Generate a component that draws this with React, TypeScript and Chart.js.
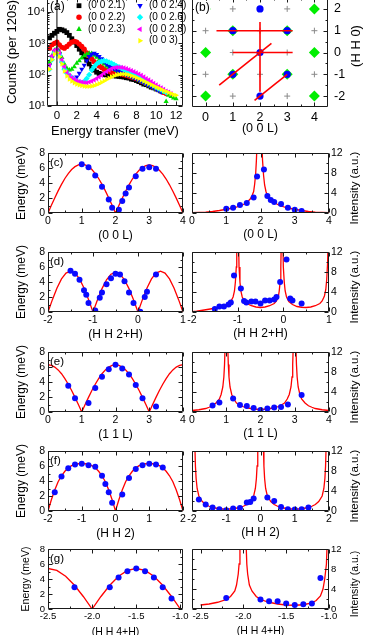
import React, { useEffect, useRef } from 'react';
import { Chart, registerables } from 'chart.js';
Chart.register(...registerables);

const W = 374;
const H = 635;
const OFF = 20;
const FONT = "'Liberation Sans', Arial, Helvetica, sans-serif";

// ---------------- Panel (a) data ----------------
const aEnergy = [-0.75,-0.5,-0.25,0,0.25,0.5,0.75,1,1.25,1.5,1.75,2,2.25,2.5,2.75,3,3.25,3.5,3.75,4,4.25,4.5,4.75,5,5.25,5.5,5.75,6,6.25,6.5,6.75,7,7.25,7.5,7.75,8,8.25,8.5,8.75,9,9.25,9.5,9.75,10,10.25,10.5,10.75,11,11.25,11.5,11.75,12];
const a21 = [1500,1800,2100,2400,2800,2700,2500,2200,1800,1400,1100,850,650,500,380,290,220,170,140,120,110,104,100,98,95,96,92,90,88,86,84,80,78,72,70,65,60,55,50,48,44,40,38,35,33,30,null,null,null,null,null,null];
const a22 = [700,900,1000,1100,900,750,700,800,950,1100,1150,1100,950,800,650,500,400,320,260,220,190,170,150,140,130,118,120,115,110,105,100,95,90,85,80,75,70,62,58,52,48,44,40,36,33,30,27,25,null,null,null,null];
const a23 = [250,400,600,700,550,350,220,160,140,150,180,230,280,340,400,450,480,470,420,360,300,250,220,190,170,155,145,135,125,115,105,100,95,88,80,75,68,62,56,50,46,42,38,35,32,30,27,14,22,20,18,17];
const a24 = [200,350,550,600,450,250,150,110,90,80,75,85,110,150,200,280,380,450,480,440,380,320,260,220,190,170,155,140,130,120,110,100,95,88,80,75,68,62,56,50,46,42,38,34,31,28,null,null,null,null,null,null];
const a26 = [150,300,500,550,420,250,150,110,90,80,70,62,58,55,60,75,100,140,180,220,250,270,280,270,250,230,210,190,175,160,145,130,120,110,100,90,82,75,68,62,56,50,45,40,36,33,30,27,null,null,null,null];
const a28 = [200,400,600,650,500,300,180,120,95,80,72,65,60,58,56,55,58,62,68,75,85,95,110,125,140,155,165,170,172,170,165,155,145,135,125,115,105,95,85,75,68,60,53,47,42,38,34,30,28,25,null,null];
const a30 = [150,300,450,500,380,220,130,90,72,62,55,50,47,45,43,42,42,43,45,48,52,57,63,70,78,85,92,98,102,105,105,102,98,92,86,80,74,68,62,57,52,48,44,40,37,34,31,29,27,25,23,22];
const aXTicks = [0,2,4,6,8,10,12];
const aYTicks = [10,100,1000,10000];
const aYLabels: Record<number,string> = {10:'10\u00B9',100:'10\u00B2',1000:'10\u00B3',10000:'10\u2074'};
const aLegendLabels = ['(0 0 2.1)','(0 0 2.2)','(0 0 2.3)','(0 0 2.4)','(0 0 2.6)','(0 0 2.8)','(0 0 3)'];

// ---------------- Panel (b) data ----------------
const bGridL = [0,1,2,3,4,0,1,2,3,4,0,1,2,3,4,0,1,2,3,4,0,1,2,3,4];
const bGridH = [2,2,2,2,2,1,1,1,1,1,0,0,0,0,0,-1,-1,-1,-1,-1,-2,-2,-2,-2,-2];
const bGreenL = [0,0,0,1,1,3,3,4,4,4];
const bGreenH = [2,0,-2,1,-1,1,-1,2,0,-2];
const bBlueL = [2,1,3,2,1,3,2];
const bBlueH = [2,1,1,0,-1,-1,-2];
const bCut11L = [0.4,3.2]; const bCut11H = [1,1];
const bCut00L = [1,3.2]; const bCut00H = [0,0];
const bCutHH2L = [2,2]; const bCutHH2H = [-1.8,1.4];
const bCutHH2HL = [0.5,2.42]; const bCutHH2HH = [-1.5,0.42];
const bCutHH4HL = [1.8,3]; const bCutHH4HH = [-2.2,-1];
const bXTicks = [0,1,2,3,4];
const bYTicks = [-2,-1,0,1,2];

// ---------------- Panels (c)-(g) data ----------------
const cL = [1.0,1.2,1.4,1.6,1.8,1.9,2.1,2.2,2.3,2.4,2.6,2.8,3.0,3.2];
const cE = [6.5,6.1,5.0,3.5,1.8,0.7,0.45,1.6,2.6,3.4,4.9,5.9,6.1,5.9];
const cI = [0.85,1.05,1.6,2.0,3.1,7.3,8.7,3.4,2.6,2.2,1.8,1.05,0.65,0.4];
const cFitL = [0,0.1,0.2,0.3,0.4,0.5,0.6,0.7,0.8,0.9,1.0,1.1,1.2,1.3,1.4,1.5,1.6,1.7,1.8,1.9,2.0,2.1,2.2,2.3,2.4,2.5,2.6,2.7,2.8,2.9,3.0,3.1,3.2,3.3,3.4,3.5,3.6,3.7,3.8,3.9,4.0];
const cFitE = [0,1.02,2.01,2.95,3.82,4.60,5.26,5.79,6.18,6.42,6.5,6.42,6.18,5.79,5.26,4.60,3.82,2.95,2.01,1.02,0,1.00,1.98,2.91,3.76,4.53,5.18,5.70,6.09,6.32,6.4,6.32,6.09,5.70,5.18,4.53,3.76,2.91,1.98,1.00,0];
const cIFitL = [0,0.2,0.4,0.6,0.8,1.0,1.2,1.4,1.5,1.6,1.7,1.75,1.8,1.83,1.86,1.88,1.9,1.97,2.04,2.06,2.09,2.12,2.16,2.2,2.3,2.4,2.5,2.6,2.8,3.0,3.2,3.4,3.6,3.8,4.0];
const cIFit = [0.05,0.1,0.18,0.3,0.5,0.75,1.0,1.4,1.7,2.1,2.8,3.4,4.3,5.8,8.0,10.5,14,null,14,10.5,7.5,5.6,4.3,3.5,2.6,2.1,1.7,1.4,1.0,0.75,0.5,0.3,0.18,0.1,0.05];

const dH = [-1.5,-1.4,-1.3,-1.2,-1.15,-1.1,-0.95,-0.85,-0.8,-0.7,-0.6,-0.5,-0.4,-0.3,-0.2,-0.1,0.05,0.15,0.2,0.4];
const dE = [5.5,5.1,4.3,2.9,2.3,1.2,0.2,1.9,2.6,3.7,4.5,5.1,5.0,4.1,2.6,1.2,0.05,2.0,2.7,5.0];
const dIH = [-1.5,-1.4,-1.3,-1.2,-1.15,-1.08,-0.93,-0.86,-0.81,-0.7,-0.61,-0.5,-0.4,-0.3,-0.2,-0.15,-0.07,0.07,0.15,0.2,0.4];
const dI = [0.6,1.1,1.1,1.5,1.9,7.3,4.7,2.2,1.9,2.1,2.1,1.7,2.3,2.3,2.5,3.0,6.0,10.5,2.7,2.3,1.7];
const dFitH = [-2.0,-1.9,-1.8,-1.7,-1.6,-1.5,-1.4,-1.3,-1.2,-1.1,-1.0,-0.9,-0.8,-0.7,-0.6,-0.5,-0.4,-0.3,-0.2,-0.1,0,0.1,0.2,0.3,0.4,0.5,0.6,0.7,0.8,0.9,1.0];
const dFitE = [0,1.68,3.20,4.41,5.18,5.45,5.18,4.41,3.20,1.68,0,1.64,3.12,4.29,5.04,5.3,5.04,4.29,3.12,1.64,0,1.68,3.20,4.41,5.18,5.45,5.18,4.41,3.20,1.68,0];
const dIFitH = [-2.0,-1.9,-1.8,-1.7,-1.6,-1.5,-1.4,-1.3,-1.2,-1.15,-1.1,-1.07,-1.05,-1.03,-1.02,-1.0,-0.98,-0.97,-0.95,-0.93,-0.9,-0.85,-0.8,-0.7,-0.6,-0.5,-0.4,-0.3,-0.2,-0.15,-0.11,-0.09,-0.07,-0.055,-0.045,-0.03,-0.01,0.0,0.02,0.04,0.07,0.12,0.2,0.3,0.4,0.5,0.6,0.7,0.8,0.85,0.9,0.93,0.95,0.97,0.98];
const dIFit = [0.05,0.15,0.3,0.45,0.6,0.75,0.95,1.25,1.7,2.1,3.0,4.2,6,9,14,null,14,9,6,4.2,3.0,2.1,1.7,1.25,1.0,0.9,1.0,1.25,1.7,2.2,3.0,4.2,6,9,14,null,14,9,6,4.2,3.0,2.1,1.5,1.1,0.95,0.9,1.0,1.25,1.7,2.2,3.2,4.5,6.5,10,14];

const eL = [0.6,0.8,1.2,1.4,1.6,1.8,2.0,2.2,2.4,2.6,2.8,3.2];
const eE = [3.5,1.85,1.2,3.2,4.7,5.7,6.3,5.8,5.0,3.6,1.85,0.75];
const eI = [1.3,1.9,2.7,1.4,1.2,0.8,0.4,0.7,0.9,1.0,1.5,3.4];
const eFitL = cFitL;
const eFitE = [6.3,6.22,5.99,5.61,5.10,4.45,3.70,2.86,1.95,0.99,0,0.99,1.95,2.86,3.70,4.45,5.10,5.61,5.99,6.22,6.3,6.22,5.99,5.61,5.10,4.45,3.70,2.86,1.95,0.99,0,0.99,1.95,2.86,3.70,4.45,5.10,5.61,5.99,6.22,6.3];
const eIFitL = [0,0.2,0.4,0.5,0.6,0.7,0.8,0.85,0.9,0.93,0.95,0.97,1.0,1.04,1.06,1.08,1.11,1.16,1.22,1.3,1.4,1.5,1.6,1.8,2.0,2.2,2.4,2.5,2.6,2.7,2.78,2.84,2.89,2.92,2.94,2.96,3.0,3.03,3.05,3.07,3.1,3.15,3.2,3.3,3.4,3.5,3.6,3.8,4.0];
const eIFit = [0.3,0.45,0.7,0.95,1.25,1.8,2.6,3.5,5.0,7,9.5,14,null,14,9.5,7,5.0,3.5,2.6,1.8,1.35,1.05,0.85,0.6,0.5,0.6,0.85,1.05,1.35,1.8,2.6,3.5,5.0,7,9.5,14,null,14,9.5,7,5.0,3.5,2.6,1.8,1.25,0.95,0.7,0.45,0.3];

const fH = [-1.8,-1.6,-1.4,-1.2,-1.0,-0.8,-0.6,-0.4,-0.3,-0.2,-0.1,0.2,0.4,0.6,0.8,1.0,1.2,1.4];
const fE = [2.5,4.6,5.7,6.2,6.3,6.1,5.9,4.7,3.6,2.5,1.1,2.2,4.4,5.6,6.1,6.3,6.2,5.8];
const fIH = [-1.8,-1.6,-1.4,-1.2,-1.0,-0.8,-0.6,-0.4,-0.3,-0.2,0.2,0.4,0.6,0.8,1.0,1.2,1.4];
const fI = [2.3,1.3,0.7,0.35,0.15,0.5,0.6,1.7,1.8,2.5,2.7,2.0,0.8,0.35,0.3,0.35,0.7];
const fFitH = [-2.0,-1.9,-1.8,-1.7,-1.6,-1.5,-1.4,-1.3,-1.2,-1.1,-1.0,-0.9,-0.8,-0.7,-0.6,-0.5,-0.4,-0.3,-0.2,-0.1,0,0.1,0.2,0.3,0.4,0.5,0.6,0.7,0.8,0.9,1.0,1.1,1.2,1.3,1.4,1.5,1.6,1.7,1.8,1.9,2.0];
const fFitE = [0,1.5,2.8,3.9,4.7,5.3,5.75,6.05,6.2,6.3,6.3,6.3,6.2,6.05,5.75,5.3,4.7,3.9,2.8,1.5,0,1.5,2.8,3.9,4.7,5.3,5.75,6.05,6.2,6.3,6.3,6.3,6.2,6.05,5.75,5.3,4.7,3.9,2.8,1.5,0];
const fIFitH = [-1.92,-1.9,-1.88,-1.85,-1.8,-1.7,-1.6,-1.5,-1.4,-1.2,-1.0,-0.8,-0.6,-0.5,-0.4,-0.3,-0.2,-0.15,-0.12,-0.1,-0.08,0,0.08,0.1,0.12,0.15,0.2,0.3,0.4,0.5,0.6,0.8,1.0,1.2,1.4,1.5,1.6,1.7,1.8,1.85,1.88,1.9,1.92];
const fIFit = [14,9,6.5,4.5,3.0,1.9,1.3,0.95,0.7,0.45,0.35,0.45,0.7,0.95,1.3,1.9,3.0,4.5,6.5,9,14,null,14,9,6.5,4.5,3.0,1.9,1.3,0.95,0.7,0.45,0.35,0.45,0.7,0.95,1.3,1.9,3.0,4.5,6.5,9,14];

const gH = [-2.2,-1.8,-1.7,-1.6,-1.5,-1.4,-1.3,-1.2,-1.1];
const gE = [2.9,2.9,4.2,5.05,5.4,5.05,4.2,2.9,1.4];
const gI = [2.2,1.9,1.55,1.55,1.1,0.8,0.95,1.1,6.2];
const gFitH = [-2.5,-2.4,-2.3,-2.2,-2.1,-2.0,-1.9,-1.8,-1.7,-1.6,-1.5,-1.4,-1.3,-1.2,-1.1,-1.0];
const gFitE = [5.4,5.14,4.37,3.17,1.67,0,1.67,3.17,4.37,5.14,5.4,5.14,4.37,3.17,1.67,0];
const gIFitH = [-2.5,-2.4,-2.3,-2.2,-2.15,-2.1,-2.08,-2.06,-2.05,-2.04,-2.0,-1.97,-1.96,-1.95,-1.93,-1.9,-1.85,-1.8,-1.7,-1.6,-1.5,-1.4,-1.3,-1.2,-1.15,-1.1,-1.07,-1.05,-1.03,-1.02];
const gIFit = [0.8,1.0,1.35,1.9,2.5,3.6,4.8,7,9,14,null,14,9,7,4.8,3.6,2.5,1.9,1.35,1.0,0.8,0.75,0.85,1.2,1.7,2.6,4,6,9,14];

const eTicksY = [0,2,4,6,8];
const iTicksY = [0,4,8,12];
const ticks04 = [0,1,2,3,4];
const ticksD = [-2,-1,0,1];
const ticksF = [-2,-1,0,1,2];
const ticksG = [-2.5,-2.0,-1.5,-1.0];

// ---------------- helpers ----------------
const pts = (xs: number[], ys: (number | null)[]) => xs.map((x, i) => ({ x, y: ys[i] }));
const RED = '#ff0000';
const BLUE = '#0a0aff';

type TextItem = { text: string; x: number; y: number; size: number; rot?: number; align?: CanvasTextAlign; bg?: boolean };
type LegendItem = { text: string; color: string; shape: string; x: number; y: number };

interface Spec {
  rect: { l: number; t: number; r: number; b: number };
  xMin: number; xMax: number; xTicks: number[]; xFmt?: (v: number) => string;
  yMin: number; yMax: number; yTicks: number[]; yFmt?: (v: number) => string; yLog?: boolean;
  yRight?: boolean;
  xTitle: string; yTitle?: string;
  tickFont: number; titleFont: number;
  xLabelPad: number; xTitleY: number;
  yLabelPad: number; yTitleX?: number;
  minorX: number; minorY: number;
  datasets: any[];
  texts: TextItem[];
  legend?: LegendItem[];
}

function drawShape(ctx: CanvasRenderingContext2D, shape: string, x: number, y: number, r: number) {
  ctx.beginPath();
  const tri = (rot: number) => {
    for (let k = 0; k < 3; k++) {
      const a = rot + (k * 2 * Math.PI) / 3;
      const px = x + r * Math.sin(a);
      const py = y - r * Math.cos(a);
      if (k === 0) ctx.moveTo(px, py); else ctx.lineTo(px, py);
    }
    ctx.closePath();
  };
  if (shape === 'rect') ctx.rect(x - r * 0.75, y - r * 0.75, r * 1.5, r * 1.5);
  else if (shape === 'circle') ctx.arc(x, y, r * 0.85, 0, Math.PI * 2);
  else if (shape === 'diamond') { ctx.moveTo(x, y - r); ctx.lineTo(x + r, y); ctx.lineTo(x, y + r); ctx.lineTo(x - r, y); ctx.closePath(); }
  else if (shape === 'up') tri(0);
  else if (shape === 'down') tri(Math.PI);
  else if (shape === 'left') tri(-Math.PI / 2);
  else if (shape === 'right') tri(Math.PI / 2);
  ctx.fill();
}

const framePlugin = {
  id: 'frame',
  afterDatasetsDraw(chart: any) {
    const o = chart.options.plugins.frame;
    if (!o) return;
    const { ctx, chartArea: a, scales } = chart;
    const xs = scales.x, ys = scales.y;
    const L = Math.round(a.left) + 0.5, R = Math.round(a.right) - 0.5;
    const T = Math.round(a.top) + 0.5, B = Math.round(a.bottom) - 0.5;
    ctx.save();
    ctx.strokeStyle = '#1a1a1a';
    ctx.lineWidth = 1;
    ctx.beginPath();
    ctx.rect(L, T, R - L, B - T);
    const minorVals = (tv: number[], n: number, min: number, max: number) => {
      const out: number[] = [];
      if (n <= 1 || tv.length < 2) return out;
      const step = tv[1] - tv[0];
      for (let k = -n; k <= (tv.length) * n; k++) {
        const v = tv[0] + (k * step) / n;
        if (k % n !== 0 && v > min && v < max) out.push(v);
      }
      return out;
    };
    const xt = xs.ticks.map((t: any) => t.value);
    const yt = ys.ticks.map((t: any) => t.value);
    const big = 4, small = 2;
    const xAt = (v: number, len: number) => {
      const p = Math.round(xs.getPixelForValue(v)) + 0.5;
      ctx.moveTo(p, B); ctx.lineTo(p, B - len);
      ctx.moveTo(p, T); ctx.lineTo(p, T + len);
    };
    const yAt = (v: number, len: number) => {
      const p = Math.round(ys.getPixelForValue(v)) + 0.5;
      ctx.moveTo(L, p); ctx.lineTo(L + len, p);
      ctx.moveTo(R, p); ctx.lineTo(R - len, p);
    };
    xt.forEach((v: number) => xAt(v, big));
    minorVals(xt, o.minorX, xs.min, xs.max).forEach((v) => xAt(v, small));
    yt.forEach((v: number) => yAt(v, big));
    if (o.log) {
      for (let d = 1; d <= 4; d++) for (let m = 2; m <= 9; m++) {
        const v = m * Math.pow(10, d);
        if (v > ys.min && v < ys.max) yAt(v, small);
      }
    } else {
      minorVals(yt, o.minorY, ys.min, ys.max).forEach((v) => yAt(v, small));
    }
    ctx.stroke();
    ctx.restore();
  },
};

const textPlugin = {
  id: 'texts',
  afterDraw(chart: any) {
    const o = chart.options.plugins.texts;
    if (!o) return;
    const ctx: CanvasRenderingContext2D = chart.ctx;
    (o.items as TextItem[]).forEach((t) => {
      ctx.save();
      ctx.translate(t.x, t.y + OFF);
      if (t.rot) ctx.rotate(t.rot);
      ctx.font = `${t.size}px ${FONT}`;
      ctx.textAlign = t.align || 'left';
      ctx.textBaseline = 'middle';
      if (t.bg) {
        const w = ctx.measureText(t.text).width;
        ctx.fillStyle = '#fff';
        const x0 = t.align === 'center' ? -w / 2 : 0;
        ctx.fillRect(x0 - 1, -t.size * 0.6, w + 2, t.size * 1.2);
      }
      ctx.fillStyle = '#000';
      ctx.fillText(t.text, 0, 0);
      ctx.restore();
    });
    ((o.legend || []) as LegendItem[]).forEach((it) => {
      ctx.save();
      ctx.fillStyle = it.color;
      drawShape(ctx, it.shape, it.x, it.y + OFF, 3.2);
      ctx.fillStyle = '#000';
      ctx.font = `10px ${FONT}`;
      ctx.textAlign = 'left';
      ctx.textBaseline = 'middle';
      ctx.fillText(it.text, it.x + 9, it.y + OFF);
      ctx.restore();
    });
  },
};

function makeConfig(s: Spec): any {
  const { l, t, r, b } = s.rect;
  const tl = s.titleFont * 1.2;
  const hx = s.xTitleY - b + tl / 2;
  const wy = s.yRight ? 20 : l - ((s.yTitleX as number) - tl / 2);
  const padding = {
    top: t + OFF,
    bottom: H - b - hx,
    left: s.yRight ? l : l - wy,
    right: s.yRight ? W - r - wy : W - r,
  };
  const tickFont = { family: FONT, size: s.tickFont };
  const titleFont = { family: FONT, size: s.titleFont };
  const xFmt = s.xFmt || ((v: number) => String(v));
  const yFmt = s.yFmt || ((v: number) => String(v));
  return {
    type: 'scatter',
    data: { datasets: s.datasets },
    options: {
      animation: false,
      responsive: false,
      events: [],
      layout: { autoPadding: false, padding },
      plugins: {
        legend: { display: false },
        tooltip: { enabled: false },
        frame: { minorX: s.minorX, minorY: s.minorY, log: !!s.yLog },
        texts: { items: s.texts, legend: s.legend || [] },
      },
      scales: {
        x: {
          type: 'linear', position: 'bottom', min: s.xMin, max: s.xMax,
          afterBuildTicks: (sc: any) => { sc.ticks = s.xTicks.map((v) => ({ value: v })); },
          afterFit: (sc: any) => { sc.height = hx; sc.paddingLeft = 0; sc.paddingRight = 0; },
          grid: { display: false, drawTicks: false },
          border: { display: false },
          ticks: { font: tickFont, color: '#000', padding: s.xLabelPad, maxRotation: 0, minRotation: 0, autoSkip: false, callback: (v: any) => xFmt(Number(v)) },
          title: { display: true, text: s.xTitle, font: titleFont, color: '#000', padding: 0 },
        },
        y: {
          type: s.yLog ? 'logarithmic' : 'linear', position: s.yRight ? 'right' : 'left', min: s.yMin, max: s.yMax,
          afterBuildTicks: (sc: any) => { sc.ticks = s.yTicks.map((v) => ({ value: v })); },
          afterFit: (sc: any) => { sc.width = wy; sc.paddingTop = 0; sc.paddingBottom = 0; },
          grid: { display: false, drawTicks: false },
          border: { display: false },
          ticks: { font: tickFont, color: '#000', padding: s.yLabelPad, autoSkip: false, callback: (v: any) => yFmt(Number(v)) },
          title: s.yRight ? { display: false } : { display: true, text: s.yTitle, font: titleFont, color: '#000', padding: 0 },
        },
      },
    },
    plugins: [framePlugin, textPlugin],
  };
}

const curve = (xs: number[], ys: (number | null)[]) => ({
  data: pts(xs, ys), showLine: true, pointRadius: 0, borderColor: RED, borderWidth: 1.3, tension: 0, spanGaps: false,
});
const dots = (xs: number[], ys: number[], r = 3) => ({
  data: pts(xs, ys), showLine: false, pointRadius: r, pointStyle: 'circle', backgroundColor: BLUE, borderColor: BLUE, borderWidth: 0,
});
const seg = (xs: number[], ys: number[]) => ({
  data: pts(xs, ys), showLine: true, pointRadius: 0, borderColor: RED, borderWidth: 1.6, tension: 0,
});

const LEFT = { l: 48, r: 183 };
const RIGHT = { l: 192, r: 329 };
const ROWS = { c: [153, 213], d: [252, 312], e: [352, 412], f: [451, 511], g: [549, 609] };

function leftPanel(key: string, xMin: number, xMax: number, xTicks: number[], xTitle: string, fitX: number[], fitY: number[], px: number[], py: number[], small = false, xFmt?: (v: number) => string): Spec {
  const [t, b] = (ROWS as any)[key];
  return {
    rect: { l: LEFT.l, r: LEFT.r, t, b },
    xMin, xMax, xTicks, xFmt, yMin: 0, yMax: 8, yTicks: eTicksY,
    xTitle, yTitle: 'Energy (meV)',
    tickFont: small ? 9.5 : 10.5, titleFont: small ? 10.5 : 12,
    xLabelPad: 2, xTitleY: b + 23, yLabelPad: 3, yTitleX: small ? 26 : 22,
    minorX: 2, minorY: 2,
    datasets: [dots(px, py), curve(fitX, fitY)],
    texts: [{ text: `(${key})`, x: 50, y: t + 10, size: 11.5 }],
  };
}

function rightPanel(key: string, xMin: number, xMax: number, xTicks: number[], xTitle: string, fitX: number[], fitY: (number | null)[], px: number[], py: number[], small = false, xFmt?: (v: number) => string): Spec {
  const [t, b] = (ROWS as any)[key];
  return {
    rect: { l: RIGHT.l, r: RIGHT.r, t, b },
    xMin, xMax, xTicks, xFmt, yMin: 0, yMax: 12, yTicks: iTicksY, yRight: true,
    xTitle,
    tickFont: small ? 9.5 : 10.5, titleFont: small ? 10.5 : 12,
    xLabelPad: 2, xTitleY: b + 22, yLabelPad: 2,
    minorX: 2, minorY: 2,
    datasets: [dots(px, py), curve(fitX, fitY)],
    texts: [{ text: 'Intensity (a.u.)', x: 355, y: (t + b) / 2 + 5, size: small ? 10.5 : 11.5, rot: -Math.PI / 2, align: 'center' }],
  };
}

const fmt1 = (v: number) => v.toFixed(1);

const panelA: Spec = {
  rect: { l: 47, r: 183, t: -2, b: 106 },
  xMin: -1, xMax: 12.7, xTicks: aXTicks,
  yMin: 10, yMax: 28000, yTicks: aYTicks, yLog: true, yFmt: (v) => aYLabels[v] || '',
  xTitle: 'Energy transfer (meV)', yTitle: 'Counts (per 120s)',
  tickFont: 11.5, titleFont: 13,
  xLabelPad: 3, xTitleY: 131, yLabelPad: 2, yTitleX: 12.5,
  minorX: 2, minorY: 1,
  datasets: [
    { data: [{ x: 0, y: 10 }, { x: 0, y: 28000 }], showLine: true, pointRadius: 0, borderColor: '#000', borderWidth: 1 },
    { data: pts(aEnergy, a30), pointStyle: 'triangle', rotation: 90, pointRadius: 3, backgroundColor: '#ffff00', borderWidth: 0 },
    { data: pts(aEnergy, a28), pointStyle: 'triangle', rotation: -90, pointRadius: 3, backgroundColor: '#ff00ff', borderWidth: 0 },
    { data: pts(aEnergy, a26), pointStyle: 'rectRot', pointRadius: 3, backgroundColor: '#00ffff', borderWidth: 0 },
    { data: pts(aEnergy, a24), pointStyle: 'triangle', rotation: 180, pointRadius: 3, backgroundColor: '#0000ff', borderWidth: 0 },
    { data: pts(aEnergy, a23), pointStyle: 'triangle', pointRadius: 3, backgroundColor: '#00dd00', borderWidth: 0 },
    { data: pts(aEnergy, a22), pointStyle: 'circle', pointRadius: 2.6, backgroundColor: '#ff0000', borderWidth: 0 },
    { data: pts(aEnergy, a21), pointStyle: 'rect', pointRadius: 3.4, backgroundColor: '#000000', borderWidth: 0 },
  ],
  texts: [{ text: '(a)', x: 50, y: 7, size: 12 }],
  legend: [
    { text: aLegendLabels[0], color: '#000000', shape: 'rect', x: 79, y: 5.7 },
    { text: aLegendLabels[1], color: '#ff0000', shape: 'circle', x: 79, y: 17.3 },
    { text: aLegendLabels[2], color: '#00dd00', shape: 'up', x: 79, y: 29.3 },
    { text: aLegendLabels[3], color: '#0000ff', shape: 'down', x: 140, y: 5.7 },
    { text: aLegendLabels[4], color: '#00ffff', shape: 'diamond', x: 140, y: 17.3 },
    { text: aLegendLabels[5], color: '#ff00ff', shape: 'left', x: 140, y: 29.3 },
    { text: aLegendLabels[6], color: '#ffff00', shape: 'right', x: 140, y: 40.7 },
  ],
};

const panelB: Spec = {
  rect: { l: 192, r: 328, t: -2, b: 107 },
  xMin: -0.5, xMax: 4.5, xTicks: bXTicks,
  yMin: -2.5, yMax: 2.5, yTicks: bYTicks, yRight: true,
  xTitle: '(0 0 L)',
  tickFont: 12.5, titleFont: 12.5,
  xLabelPad: 3, xTitleY: 128.5, yLabelPad: 6,
  minorX: 2, minorY: 2,
  datasets: [
    seg(bCut11L, bCut11H), seg(bCut00L, bCut00H), seg(bCutHH2L, bCutHH2H), seg(bCutHH2HL, bCutHH2HH), seg(bCutHH4HL, bCutHH4HH),
    { data: pts(bBlueL, bBlueH), pointStyle: 'circle', pointRadius: 3.6, backgroundColor: '#0000ff', borderWidth: 0 },
    { data: pts(bGreenL, bGreenH), pointStyle: 'rectRot', pointRadius: 5.5, backgroundColor: '#00ee00', borderWidth: 0 },
    { data: pts(bGridL, bGridH), pointStyle: 'cross', pointRadius: 3, borderColor: '#8a8a8a', borderWidth: 1 },
  ],
  texts: [
    { text: '(b)', x: 195, y: 8, size: 12, bg: true },
    { text: '(H H 0)', x: 356, y: 46, size: 13, rot: -Math.PI / 2, align: 'center' },
  ],
};

const PANELS: Spec[] = [
  panelA,
  panelB,
  leftPanel('c', 0, 4, ticks04, '(0 0 L)', cFitL, cFitE, cL, cE),
  rightPanel('c', 0, 4, ticks04, '(0 0 L)', cIFitL, cIFit, cL, cI),
  leftPanel('d', -2, 1, ticksD, '(H H 2+H)', dFitH, dFitE, dH, dE),
  rightPanel('d', -2, 1, ticksD, '(H H 2+H)', dIFitH, dIFit, dIH, dI),
  leftPanel('e', 0, 4, ticks04, '(1 1 L)', eFitL, eFitE, eL, eE),
  rightPanel('e', 0, 4, ticks04, '(1 1 L)', eIFitL, eIFit, eL, eI),
  leftPanel('f', -2, 2, ticksF, '(H H 2)', fFitH, fFitE, fH, fE),
  rightPanel('f', -2, 2, ticksF, '(H H 2)', fIFitH, fIFit, fIH, fI),
  leftPanel('g', -2.5, -0.97, ticksG, '(H H 4+H)', gFitH, gFitE, gH, gE, true, fmt1),
  rightPanel('g', -2.6, -1.0, ticksG, '(H H 4+H)', gIFitH, gIFit, gH, gI, true, fmt1),
];

function Panel({ spec }: { spec: Spec }) {
  const ref = useRef<HTMLCanvasElement>(null);
  useEffect(() => {
    if (!ref.current) return;
    const chart = new Chart(ref.current, makeConfig(spec));
    return () => chart.destroy();
  }, [spec]);
  return (
    <canvas
      ref={ref}
      width={W}
      height={H + OFF}
      style={{ position: 'absolute', left: 0, top: -OFF, width: W, height: H + OFF }}
    />
  );
}

export default function App() {
  return (
    <div style={{ position: 'fixed', left: 0, top: 0, width: W, height: H, background: '#fff', overflow: 'hidden' }}>
      {PANELS.map((s, i) => (
        <Panel key={i} spec={s} />
      ))}
    </div>
  );
}
